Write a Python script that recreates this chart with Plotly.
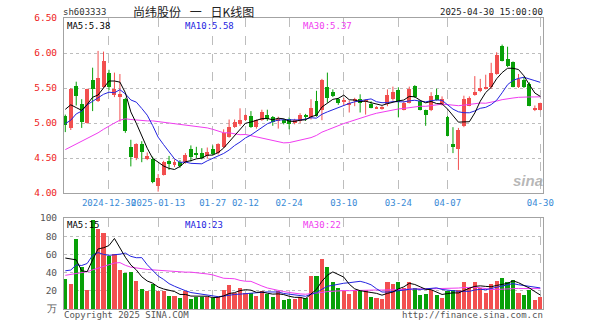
import plotly.graph_objects as go
import pandas as pd

# ---- daily bars: 尚纬股份 (sh603333) ----
dates = [
    "2024-12-18", "2024-12-19", "2024-12-20", "2024-12-23", "2024-12-24", "2024-12-25", "2024-12-26", "2024-12-27",
    "2024-12-30", "2024-12-31", "2025-01-02", "2025-01-03", "2025-01-06", "2025-01-07", "2025-01-08", "2025-01-09",
    "2025-01-10", "2025-01-13", "2025-01-14", "2025-01-15", "2025-01-16", "2025-01-17", "2025-01-20", "2025-01-21",
    "2025-01-22", "2025-01-23", "2025-01-24", "2025-01-27", "2025-02-05", "2025-02-06", "2025-02-07", "2025-02-10",
    "2025-02-11", "2025-02-12", "2025-02-13", "2025-02-14", "2025-02-17", "2025-02-18", "2025-02-19", "2025-02-20",
    "2025-02-21", "2025-02-24", "2025-02-25", "2025-02-26", "2025-02-27", "2025-02-28", "2025-03-03", "2025-03-04",
    "2025-03-05", "2025-03-06", "2025-03-07", "2025-03-10", "2025-03-11", "2025-03-12", "2025-03-13", "2025-03-14",
    "2025-03-17", "2025-03-18", "2025-03-19", "2025-03-20", "2025-03-21", "2025-03-24", "2025-03-25", "2025-03-26",
    "2025-03-27", "2025-03-28", "2025-03-31", "2025-04-01", "2025-04-02", "2025-04-03", "2025-04-07", "2025-04-08",
    "2025-04-09", "2025-04-10", "2025-04-11", "2025-04-14", "2025-04-15", "2025-04-16", "2025-04-17", "2025-04-18",
    "2025-04-21", "2025-04-22", "2025-04-23", "2025-04-24", "2025-04-25", "2025-04-28", "2025-04-29", "2025-04-30",
]
opens = [
    5.10, 4.93, 5.53, 5.27, 5.00, 5.62, 5.32, 5.52, 5.71, 5.40, 5.37, 5.35, 4.66, 4.50, 4.70, 4.49,
    4.48, 4.10, 4.26, 4.46, 4.40, 4.45, 4.44, 4.63, 4.57, 4.57, 4.53, 4.63, 4.57, 4.66, 4.80, 4.95,
    4.99, 5.05, 5.10, 4.95, 5.04, 5.12, 5.09, 5.03, 5.05, 5.06, 5.00, 5.03, 5.11, 5.09, 5.31, 5.18,
    5.51, 5.45, 5.34, 5.30, 5.27, 5.32, 5.34, 5.30, 5.27, 5.21, 5.21, 5.27, 5.34, 5.47, 5.19, 5.29,
    5.53, 5.32, 5.18, 5.19, 5.40, 5.27, 5.08, 4.70, 4.63, 4.96, 5.25, 5.40, 5.46, 5.49, 5.51, 5.70,
    6.10, 5.91, 5.87, 5.52, 5.61, 5.56, 5.19, 5.19,
]
highs = [
    5.12, 5.50, 5.59, 5.34, 5.49, 5.79, 6.03, 6.02, 5.76, 5.72, 5.70, 5.36, 4.76, 4.71, 4.74, 4.58,
    4.52, 4.27, 4.46, 4.53, 4.48, 4.47, 4.57, 4.68, 4.66, 4.64, 4.65, 4.68, 4.71, 4.91, 5.05, 5.05,
    5.21, 5.12, 5.17, 5.05, 5.19, 5.19, 5.10, 5.09, 5.06, 5.08, 5.06, 5.14, 5.13, 5.34, 5.46, 5.63,
    5.72, 5.48, 5.36, 5.36, 5.32, 5.36, 5.41, 5.34, 5.31, 5.24, 5.24, 5.48, 5.52, 5.51, 5.31, 5.52,
    5.54, 5.33, 5.19, 5.44, 5.49, 5.38, 5.10, 4.94, 4.93, 5.39, 5.38, 5.67, 5.63, 5.69, 5.86, 6.01,
    6.12, 6.09, 5.88, 5.70, 5.66, 5.58, 5.25, 5.29,
]
lows = [
    4.87, 4.90, 5.25, 4.93, 4.99, 5.17, 5.30, 5.50, 5.47, 5.37, 5.02, 4.86, 4.38, 4.47, 4.44, 4.47,
    4.14, 4.02, 4.25, 4.33, 4.37, 4.36, 4.42, 4.45, 4.50, 4.48, 4.49, 4.54, 4.55, 4.64, 4.79, 4.93,
    4.96, 5.03, 4.93, 4.92, 5.03, 5.03, 4.96, 4.92, 4.98, 4.91, 4.98, 5.00, 5.03, 5.05, 5.09, 5.04,
    5.29, 5.37, 5.26, 5.25, 5.15, 5.24, 5.15, 5.12, 5.21, 5.20, 5.19, 5.24, 5.32, 5.08, 5.18, 5.28,
    5.36, 5.18, 4.96, 5.17, 5.32, 5.25, 4.81, 4.57, 4.33, 4.94, 5.24, 5.39, 5.44, 5.48, 5.49, 5.69,
    5.88, 5.80, 5.51, 5.50, 5.50, 5.24, 5.17, 5.18,
]
closes = [
    4.97, 5.48, 5.38, 5.01, 5.48, 5.49, 5.64, 5.88, 5.51, 5.48, 5.41, 4.88, 4.51, 4.70, 4.58, 4.53,
    4.16, 4.22, 4.44, 4.41, 4.45, 4.38, 4.55, 4.52, 4.54, 4.50, 4.59, 4.56, 4.70, 4.86, 4.94, 5.02,
    5.05, 5.11, 4.95, 5.04, 5.16, 5.06, 5.02, 5.06, 5.00, 4.99, 5.04, 5.11, 5.09, 5.22, 5.10, 5.62,
    5.36, 5.39, 5.29, 5.33, 5.29, 5.34, 5.28, 5.32, 5.22, 5.22, 5.22, 5.40, 5.44, 5.30, 5.28, 5.48,
    5.37, 5.19, 5.12, 5.38, 5.33, 5.35, 4.82, 4.66, 4.90, 5.35, 5.36, 5.45, 5.50, 5.52, 5.72, 5.97,
    5.89, 5.81, 5.52, 5.63, 5.52, 5.25, 5.22, 5.28,
]
# volume, 万手
volumes = [
    33, 28, 77, 46, 21, 98, 88, 83.5, 58, 60, 43, 40, 41, 31, 22, 20,
    28, 20, 20, 14, 14, 12, 20, 11, 13, 13, 13, 12.4, 13, 20.5, 26, 18,
    23.5, 18, 18, 14, 20, 16.7, 13, 19.5, 10, 10.8, 10.8, 13, 12, 36, 36, 55.4,
    46.3, 30, 23.5, 20, 16.7, 20.5, 20, 20.5, 13, 12, 10.5, 29.8, 28, 30, 23.5, 29.8,
    23.5, 14.9, 16.7, 21.3, 14.9, 12, 19.9, 20.6, 20.6, 29.8, 23.5, 29.8, 23.5, 17.6, 27.8, 30.9,
    34.6, 29.8, 31.7, 17.6, 15.6, 20.6, 10, 13,
]

# averages over the days before 2024-12-18 are not in the table above,
# so the leading points of each line are given directly
ma5_head = [5.195, 5.26, 5.22, 5.18]
ma10_head = [4.99, 5.04, 5.13, 5.17, 5.26, 5.31, 5.36, 5.41, 5.44]
ma30_head = [4.62, 4.66, 4.70, 4.73, 4.77, 4.81, 4.86, 4.91, 4.96, 5.00, 5.04, 5.06, 5.05, 5.04, 5.04,
             5.03, 5.03, 5.02, 5.01, 5.00, 5.00, 4.99, 4.98, 4.97, 4.955, 4.945, 4.93, 4.91, 4.89]
vma5_head = [56, 55, 54, 42]
vma10_head = [42, 42.8, 48.5, 47.8, 50, 59, 62, 60, 59]
vma30_head = [37, 38, 39, 40, 41, 43, 45, 47, 49, 50.5, 51, 48, 46, 45, 44, 43.5, 43, 42.5, 42, 41.5,
              41.5, 41, 40.5, 40.5, 40, 39.5, 38.5, 37.5, 35.5]

tick_dates = ["2024-12-30", "2025-01-13", "2025-01-27", "2025-02-12", "2025-02-24",
              "2025-03-10", "2025-03-24", "2025-04-07", "2025-04-30"]
tick_text = ["2024-12-30", "2025-01-13", "01-27", "02-12", "02-24", "03-10", "03-24", "04-07", "04-30"]
price_ticks = [4.0, 4.5, 5.0, 5.5, 6.0, 6.5]
volume_ticks = [0, 20, 40, 60, 80, 100]
volume_tick_text = ["万", "20", "40", "60", "80", "100"]

UP = "#f24f4f"
DOWN = "#08a008"
C_MA5 = "#000000"
C_MA10 = "#2424e0"
C_MA30 = "#f03cf0"
GRID = "#bdbdbd"
FRAME = "#a3a3a3"
MONO = "DejaVu Sans Mono, Liberation Mono, monospace"


def moving_average(values, n, head):
    s = pd.Series(values, dtype=float).rolling(n).mean()
    s.iloc[: n - 1] = head
    return s.tolist()


ma5 = moving_average(closes, 5, ma5_head)
ma10 = moving_average(closes, 10, ma10_head)
ma30 = moving_average(closes, 30, ma30_head)
vma5 = moving_average(volumes, 5, vma5_head)
vma10 = moving_average(volumes, 10, vma10_head)
vma30 = moving_average(volumes, 30, vma30_head)

x = list(range(len(dates)))
rising = [c >= o for o, c in zip(opens, closes)]

fig = go.Figure()

# wicks
for is_up, color in ((True, UP), (False, DOWN)):
    wx, wy = [], []
    for i in x:
        if rising[i] == is_up:
            wx += [i, i, None]
            wy += [lows[i], highs[i], None]
    fig.add_trace(go.Scatter(x=wx, y=wy, mode="lines", line=dict(color=color, width=1),
                             hoverinfo="skip", xaxis="x", yaxis="y"))

# candle bodies
body_base = [min(o, c) for o, c in zip(opens, closes)]
body_len = [max(abs(c - o), 0.012) for o, c in zip(opens, closes)]
colors = [UP if r else DOWN for r in rising]
fig.add_trace(go.Bar(x=x, y=body_len, base=body_base, width=0.72, marker=dict(color=colors, line=dict(width=0)),
                     xaxis="x", yaxis="y"))

# price moving averages
for series, color in ((ma30, C_MA30), (ma10, C_MA10), (ma5, C_MA5)):
    fig.add_trace(go.Scatter(x=x, y=series, mode="lines", line=dict(color=color, width=1),
                             xaxis="x", yaxis="y"))

# volume
fig.add_trace(go.Bar(x=x, y=volumes, width=0.76, marker=dict(color=colors, line=dict(width=0)),
                     xaxis="x2", yaxis="y2"))
for series, color in ((vma30, C_MA30), (vma10, C_MA10), (vma5, C_MA5)):
    fig.add_trace(go.Scatter(x=x, y=series, mode="lines", line=dict(color=color, width=1),
                             xaxis="x2", yaxis="y2"))

tickvals = [dates.index(d) for d in tick_dates]
xrange = [-0.24, len(dates) - 0.51]

common_x = dict(range=xrange, tickvals=tickvals, showgrid=True, gridcolor=GRID, griddash="dash", gridwidth=1,
                showline=True, linecolor=FRAME, linewidth=1, mirror=True, ticks="", zeroline=False,
                fixedrange=True, tickangle=0)

fig.update_layout(
    width=600, height=327,
    margin=dict(l=64, r=57, t=18, b=18, pad=0),
    paper_bgcolor="white", plot_bgcolor="white",
    showlegend=False, barmode="overlay", bargap=0,
    font=dict(family=MONO, size=9, color="#333333"),
    xaxis=dict(**common_x, ticktext=tick_text, showticklabels=True,
               tickfont=dict(family=MONO, size=9, color="#3a8ad6"), anchor="y", ticklabelstandoff=1),
    yaxis=dict(domain=[0.3986, 1.0], range=[4.0, 6.5], tickvals=price_ticks, tickformat=".2f",
               tickfont=dict(family=MONO, size=9.5, color="#ee2222"), showgrid=True, gridcolor=GRID,
               griddash="dot", showline=True, linecolor=FRAME, mirror=True, ticks="", zeroline=False,
               ticklabelstandoff=4, anchor="x"),
    xaxis2=dict(**common_x, ticktext=tick_text, showticklabels=False, anchor="y2"),
    yaxis2=dict(domain=[0.0, 0.3127], range=[0, 100], tickvals=volume_ticks, ticktext=volume_tick_text,
                tickfont=dict(family=MONO, size=9.5, color="#555555"), showgrid=True, gridcolor=GRID,
                griddash="dot", showline=True, linecolor=FRAME, mirror=True, ticks="", zeroline=False,
                ticklabelstandoff=4, anchor="x2"),
)


def px_x(px):
    return (px - 64) / 479


def px_y(py):
    return (309 - py) / 291


def label(text, px, py, color, anchor="left", size=9, family=MONO):
    fig.add_annotation(text=text, x=px_x(px), y=px_y(py), xref="paper", yref="paper", xanchor=anchor,
                       yanchor="middle", showarrow=False, font=dict(family=family, size=size, color=color),
                       borderpad=0)


label("sh603333", 62, 12, "#333333")
label("尚纬股份\u2002 一 \u2002日K线图", 193, 11, "#222222", anchor="center", size=12,
      family="Noto Sans CJK SC, sans-serif")
label("2025-04-30 15:00:00", 544, 12, "#222222", anchor="right")

label(f"MA5:{ma5[-1]:.2f}", 66, 26, C_MA5)
label(f"MA10:{ma10[-1]:.2f}", 184, 26, C_MA10)
label(f"MA30:{ma30[-1]:.2f}", 302, 26, C_MA30)

label(f"MA5:{vma5[-1]:.0f}", 66, 225, C_MA5)
label(f"MA10:{vma10[-1]:.0f}", 184, 225, C_MA10)
label(f"MA30:{vma30[-1]:.0f}", 302, 225, C_MA30)

label("Copyright 2025 SINA.COM", 63, 315, "#555555")
label("http://finance.sina.com.cn", 544, 315, "#555555", anchor="right")

# sina watermark
label("<b><i>sina</i></b>", 528, 180, "rgba(160,160,160,0.75)", anchor="center", size=15,
      family="Liberation Sans, Arial, sans-serif")

fig.write_html("out.html")
